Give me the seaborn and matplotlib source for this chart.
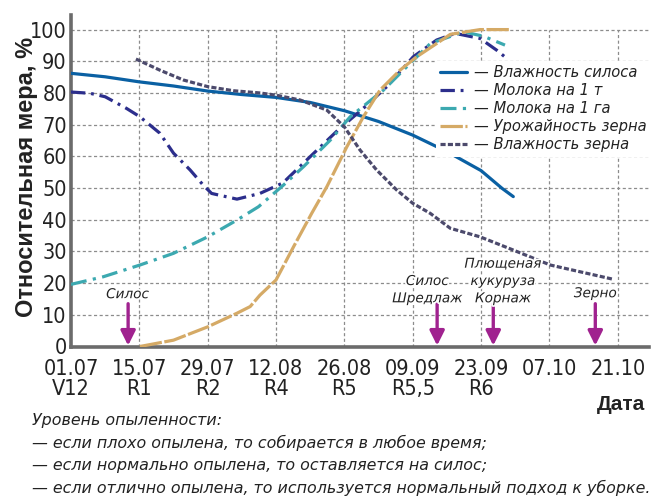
import matplotlib
matplotlib.use("Agg")
import matplotlib.pyplot as plt
import matplotlib.patheffects as pe
from matplotlib import font_manager
import seaborn as sns
import pandas as pd

# ---------------- data ----------------
tick_days = [0, 14, 28, 42, 56, 70, 84, 98, 112]
date_labels = ["01.07", "15.07", "29.07", "12.08", "26.08", "09.09", "23.09", "07.10", "21.10"]
stage_labels = ["V12", "R1", "R2", "R4", "R5", "R5,5", "R6", "", ""]
y_ticks = [0, 10, 20, 30, 40, 50, 60, 70, 80, 90, 100]

silage_moist_x = [0, 7, 14, 21, 28, 35, 42, 49, 56, 63, 70, 77, 84, 88.3, 90.6]
silage_moist_y = [86.2, 85.1, 83.5, 82.2, 80.6, 79.5, 78.6, 77.0, 74.4, 71.0, 66.7, 61.5, 55.5, 49.9, 47.3]

milk_t_x = [0, 3.9, 7, 11.4, 14.1, 18.2, 21, 24.4, 27.1, 28.8, 34, 38.7, 43.4, 49, 54.7, 60.2, 64.7, 70.1, 74.9, 78.7, 83.8, 87.2, 89.5]
milk_t_y = [80.3, 79.9, 78.8, 75.1, 72.5, 67.3, 61.0, 55.7, 50.9, 48.3, 46.5, 48.3, 51.6, 59.9, 68.3, 75.6, 82.0, 91.4, 96.7, 98.8, 97.2, 93.5, 90.6]

milk_ha_x = [0, 6.6, 14.1, 21, 28, 34, 38.4, 43.5, 47.6, 53.1, 57.2, 64, 68.8, 73.6, 80.4, 84.5, 88.9]
milk_ha_y = [19.6, 22.0, 25.7, 29.4, 34.6, 39.9, 44.1, 50.9, 56.7, 65.1, 72.5, 80.9, 88.3, 95.6, 99.3, 97.9, 95.1]

grain_yield_x = [14.1, 21, 28, 34, 36.7, 38.7, 42, 45.6, 49.3, 52.4, 56.5, 59.9, 63.3, 67.4, 70.8, 74.9, 77.7, 83.8, 90]
grain_yield_y = [0, 2.0, 6.2, 10.5, 12.6, 16.2, 21.0, 31.5, 42.0, 50.4, 63.0, 72.5, 80.9, 87.2, 91.4, 95.6, 98.5, 100, 100]

grain_moist_x = [13.3, 18.2, 23, 28, 33.3, 38.7, 42, 46.9, 52.4, 56, 59.2, 62.6, 66.7, 70, 73.6, 77.7, 83.8, 90, 98.2, 111.1]
grain_moist_y = [90.7, 87.2, 84.1, 82.0, 80.7, 80.0, 79.3, 77.8, 74.6, 69.3, 62.0, 55.7, 49.4, 45.2, 42.0, 37.3, 34.6, 30.8, 25.7, 21.2]

series_names = ["— Влажность силоса", "— Молока на 1 т", "— Молока на 1 га",
                "— Урожайность зерна", "— Влажность зерна"]

harvest_x = [11.7, 75, 86.5, 107.4]
harvest_labels = ["Силос", "Силос\nШредлаж", "Плющеная\nкукуруза\nКорнаж", "Зерно"]

footnote = ["Уровень опыленности:",
            "— если плохо опылена, то собирается в любое время;",
            "— если нормально опылена, то оставляется на силос;",
            "— если отлично опылена, то используется нормальный подход к уборке."]

# ---------------- style ----------------
sns.set_theme(style="white")
plt.rcParams["font.family"] = ["DejaVu Sans"]
fl = font_manager.fontManager.ttflist
has_cond = any(f.name == "DejaVu Sans" and f.stretch == "condensed" and f.weight in (400, "normal") for f in fl)
if has_cond:
    tick_font = dict(family="DejaVu Sans", stretch="condensed", size=15.5)
else:
    tick_font = dict(family="Liberation Sans", size=14.5)

colors = ["#0a60a3", "#2c2e8c", "#3ca9b0", "#d5aa66", "#4c4a6c"]
styles = ["-", (0, (4.5, 1.8, 0.9, 1.8)), (0, (5, 2, 1, 2)), (0, (7, 0.8)), (0, (1.6, 0.7))]
xs = [silage_moist_x, milk_t_x, milk_ha_x, grain_yield_x, grain_moist_x]
ys = [silage_moist_y, milk_t_y, milk_ha_y, grain_yield_y, grain_moist_y]

fig = plt.figure(figsize=(6.61, 4.99), dpi=100)
ax = fig.add_axes([71 / 661, 1 - 346.5 / 499, (649 - 71) / 661, (346.5 - 15) / 499])

# grid
for v in y_ticks[1:]:
    ax.axhline(v, color="#8c8c8c", lw=0.9, ls=(0, (2.5, 2)), zorder=1)
for d in tick_days[1:]:
    ax.vlines(d, 0, 100, color="#8c8c8c", lw=0.9, ls=(0, (2.5, 2)), zorder=1)

for name, x, y, c, s in zip(series_names, xs, ys, colors, styles):
    df = pd.DataFrame({"day": x, "val": y})
    sns.lineplot(data=df, x="day", y="val", ax=ax, color=c, lw=2.3,
                 linestyle=s, label=name, zorder=3)

ax.set_xlim(0, 118.4)
ax.set_ylim(0, 104.6)
ax.set_xticks(tick_days)
ax.set_xticklabels([f"{a}\n{b}" if b else a for a, b in zip(date_labels, stage_labels)],
                   color="#222222", **tick_font)
for lbl in ax.get_xticklabels():
    lbl.set_linespacing(1.02)
    lbl.set_verticalalignment("top")
ax.set_yticks(y_ticks)
ax.set_yticklabels([str(v) for v in y_ticks], color="#222222", **tick_font)
ax.tick_params(axis="both", length=0)
ax.tick_params(axis="x", pad=9)
ax.tick_params(axis="y", pad=3)
ax.set_xlabel("")
ax.set_ylabel("")
for sp in ["top", "right"]:
    ax.spines[sp].set_visible(False)
for sp in ["left", "bottom"]:
    ax.spines[sp].set_color("#6b6b6b")
    ax.spines[sp].set_linewidth(2.6)

# harvest arrows
label_x = [11.6, 73.0, 88.5, 107.4]
label_y = [14.3, 13.0, 13.0, 14.6]
for hx in harvest_x:
    ax.annotate("", xy=(hx, 0.3), xytext=(hx, 13.5),
                arrowprops=dict(arrowstyle="-|>", color="#a0228f", lw=2.4,
                                mutation_scale=22, shrinkA=0, shrinkB=0), zorder=4)
for lx, ly, lab in zip(label_x, label_y, harvest_labels):
    ax.text(lx, ly, lab, ha="center", va="bottom", fontsize=9.8, style="italic",
            color="#222222", linespacing=1.3, zorder=4,
            path_effects=[pe.withStroke(linewidth=2.5, foreground="white")])

leg = ax.legend(loc="upper left", bbox_to_anchor=(436 / 661, 1 - 61 / 499),
                bbox_transform=fig.transFigure, frameon=True, fancybox=False,
                facecolor="white", edgecolor="none", framealpha=1,
                prop=dict(size=10.6, style="italic"), handlelength=1.8,
                handletextpad=0.45, labelspacing=0.2, borderpad=0.3, borderaxespad=0)
leg.set_zorder(5)
for t in leg.get_texts():
    t.set_color("#222222")

fig.text(27 / 661, 1 - 177 / 499, "Относительная мера, %", rotation=90, ha="center",
         va="center", fontsize=17, fontweight="bold", family="Liberation Sans", color="#222222")
fig.text(645 / 661, 1 - 405 / 499, "Дата", ha="right", va="center", fontsize=15,
         fontweight="bold", family="Liberation Sans", color="#222222")
for i, line in enumerate(footnote):
    fig.text(32 / 661, 1 - (421 + i * 22.4) / 499, line, ha="left", va="center",
             fontsize=11.4, style="italic", color="#222222")

fig.savefig("out.png", dpi=100)
